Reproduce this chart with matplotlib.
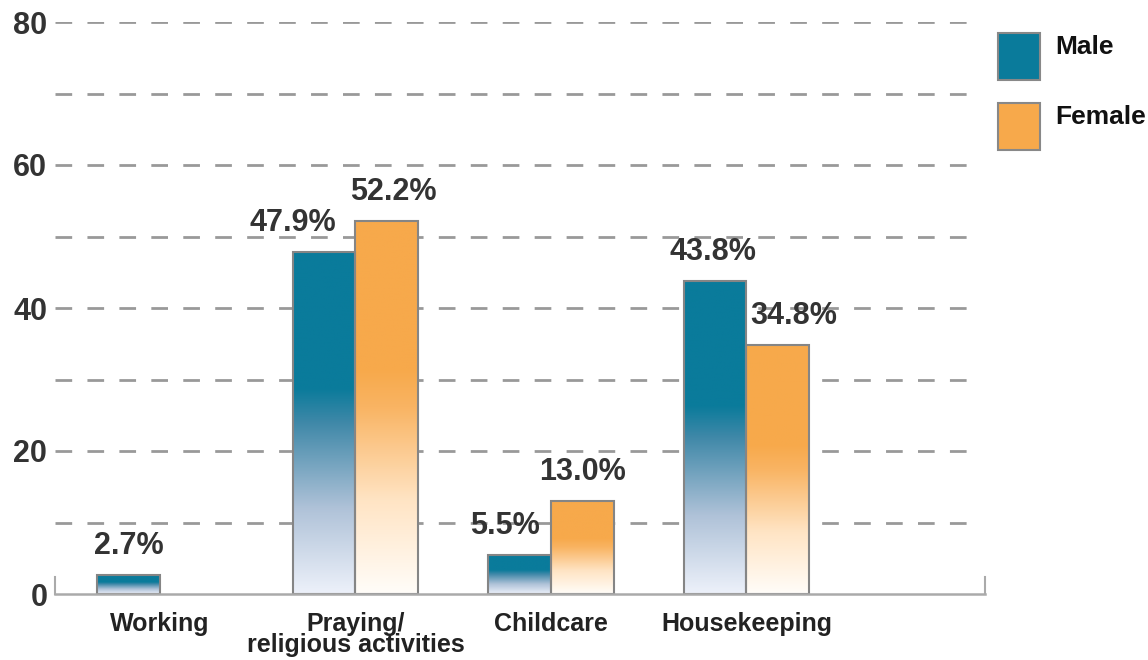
import numpy as np
import matplotlib
matplotlib.use('Agg')
import matplotlib.pyplot as plt
from matplotlib.colors import LinearSegmentedColormap
from matplotlib.patches import Rectangle

categories = ['Working', 'Praying/\nreligious activities', 'Childcare', 'Housekeeping']
male = [2.7, 47.9, 5.5, 43.8]
female = [np.nan, 52.2, 13.0, 34.8]
series_names = ['Male', 'Female']
yticks = [0, 20, 40, 60, 80]

plt.rcParams['font.family'] = ['Liberation Sans', 'DejaVu Sans']
plt.rcParams['font.weight'] = 'bold'

teal = '#0A7B9B'
orange = '#F7A94B'
txt = '#333333'

male_cmap = LinearSegmentedColormap.from_list(
    'm', [(0, '#EDF1FA'), (0.25, '#AFC2D8'), (0.5, '#3F88A8'), (0.6, teal), (1, teal)])
female_cmap = LinearSegmentedColormap.from_list(
    'f', [(0, '#FFFDF9'), (0.25, '#FFE4C4'), (0.5, '#F9B463'), (0.6, orange), (1, orange)])

fig = plt.figure(figsize=(11.48, 6.6), dpi=100)
ax = fig.add_axes([55 / 1148, 66 / 660, 930 / 1148, 572 / 660])

x = np.arange(len(categories))
w = 0.322
grad = np.linspace(0, 1, 256).reshape(-1, 1)

# dashed grid
for g in range(10, 81, 10):
    ax.plot([-0.537, 4.2], [g, g], color='#999999', lw=2, ls=(0, (6, 5.5)), zorder=1)

male_off = [0, -31, -15, -2]
female_off = [0, 6, 0, 16]

for vals, cmap, sign, offs in [(male, male_cmap, -1, male_off), (female, female_cmap, 1, female_off)]:
    for i, v in enumerate(vals):
        if np.isnan(v):
            continue
        x0 = x[i] if sign > 0 else x[i] - w
        ax.imshow(grad, extent=[x0, x0 + w, 0, v], origin='lower', aspect='auto',
                  cmap=cmap, zorder=2, interpolation='bilinear')
        ax.add_patch(Rectangle((x0, 0), w, v, fill=False, edgecolor='#858585', lw=1.5, zorder=3))
        ax.annotate(f'{v:.1f}%', (x0 + w / 2, v), xytext=(offs[i], 21),
                    textcoords='offset pixels', ha='center', va='baseline',
                    fontsize=22, color=txt, annotation_clip=False)

# baseline with end ticks
ax.plot([-0.537, 4.22], [0, 0], color='#AAAAAA', lw=1.8, zorder=4, clip_on=False)
for xe in [-0.535, 4.218]:
    ax.plot([xe, xe], [0, 2.4], color='#AAAAAA', lw=1.5, zorder=4, clip_on=False)

ax.set_xlim(-0.537, 4.22)
ax.set_ylim(0, 80)
ax.set_xticks(x)
ax.set_xticklabels(categories, fontsize=18, color='#222222', linespacing=0.85)
ax.set_yticks(yticks)
ax.set_yticklabels([str(t) for t in yticks], fontsize=22, color=txt)
ax.tick_params(length=0, axis='y', pad=5.5)
ax.tick_params(length=0, axis='x', pad=13)
for s in ax.spines.values():
    s.set_visible(False)

# legend
for k, (name, col) in enumerate(zip(series_names, [teal, orange])):
    top = 33 + k * 70
    fig.patches.append(Rectangle((998 / 1148, 1 - (top + 47) / 660), 42 / 1148, 47 / 660,
                                 transform=fig.transFigure, facecolor=col,
                                 edgecolor='#888888', lw=1.5))
    fig.text(1055 / 1148, 1 - (top + 14) / 660, name, fontsize=19, color='#111111',
             va='center', ha='left')

fig.savefig('out.png', dpi=100)
